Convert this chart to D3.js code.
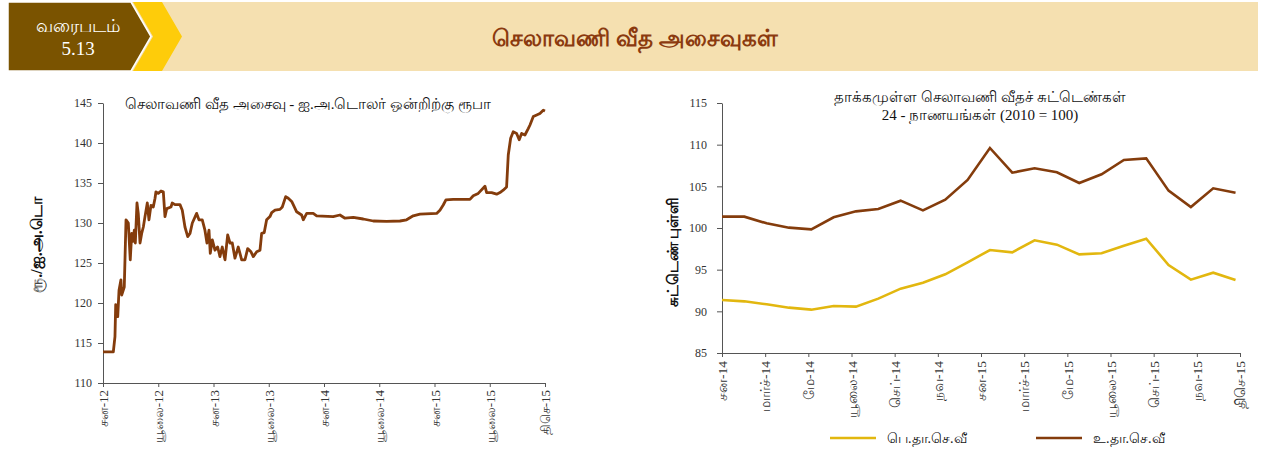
<!DOCTYPE html>
<html>
<head>
<meta charset="utf-8">
<script src="https://cdn.jsdelivr.net/npm/d3@7"></script>
<style>
  @font-face {
    font-family: 'TamilLocal';
    src: local('Noto Sans Tamil'), local('Noto Serif Tamil'), local('Lohit Tamil'), local('Lohit-Tamil'),
         local('TSCu_Paranar'), local('Samyak Tamil');
    unicode-range: U+0B80-0BFF;
  }
  body { margin: 0; background: #fff; }
  text { font-family: 'TamilLocal', 'Liberation Serif', serif; }
  .axis path, .axis line { stroke: #555; }
  .axis text { fill: #333; font-size: 12px; }
</style>
</head>
<body>
<script>
// left chart: rupees per US dollar, x in months from Jan 2012
const usdMonth = [0, 1.12, 1.3, 1.38, 1.6, 1.74, 1.95, 2.03, 2.31, 2.5, 2.75, 2.96, 3.12, 3.26, 3.4, 3.51, 3.69, 3.83,
    4.02, 4.2, 4.38, 4.56, 4.81, 4.99, 5.21, 5.46, 5.65, 5.75, 6.0, 6.3, 6.55, 6.73, 6.92, 7.38, 7.52, 7.82, 8.36,
    8.61, 8.9, 9.2, 9.45, 9.7, 10.17, 10.42, 10.78, 11.07, 11.29, 11.51, 11.65, 11.87, 12.16, 12.45, 12.7, 12.95,
    13.25, 13.54, 13.79, 14.04, 14.33, 14.69, 15.06, 15.42, 15.71, 16.07, 16.32, 16.69, 17.05, 17.23, 17.51, 17.77,
    18.13, 18.32, 18.68, 19.22, 19.47, 19.84, 20.12, 20.49, 20.66, 21.03, 21.57, 21.75, 22.12, 22.83, 23.2, 25.0,
    25.73, 26.28, 27.18, 28.26, 29.35, 30.8, 32.25, 32.97, 33.69, 34.42, 36.23, 36.59, 36.95, 37.24, 38.03, 39.85,
    40.21, 40.75, 41.48, 41.66, 42.2, 42.75, 43.11, 43.46, 43.83, 44.01, 44.27, 44.55, 44.92, 45.2, 45.46, 45.82,
    46.18, 46.37, 46.73, 47.1, 47.45, 47.81, 48.0]
const usdRate = [113.9, 113.9, 115.8, 119.8, 118.3, 121.6, 122.9, 121.0, 122.0, 130.4, 130.0, 125.4, 128.7, 127.7,
    129.1, 127.5, 132.5, 131.2, 127.5, 128.7, 129.5, 130.8, 132.5, 130.4, 132.2, 132.0, 133.1, 133.9, 133.7, 134.0,
    133.9, 130.8, 131.8, 132.0, 132.5, 132.3, 132.3, 131.6, 129.5, 128.3, 128.7, 130.0, 131.2, 130.4, 130.4, 129.1,
    127.5, 129.1, 126.2, 127.9, 126.6, 127.0, 125.8, 127.0, 125.4, 128.5, 127.5, 127.5, 125.6, 127.0, 125.4, 125.4,
    126.8, 126.4, 125.8, 126.4, 126.6, 128.7, 128.8, 130.4, 130.8, 131.3, 131.6, 131.7, 132.0, 133.3, 133.1, 132.7,
    132.3, 131.4, 131.0, 130.4, 131.2, 131.2, 130.9, 130.8, 131.0, 130.6, 130.7, 130.5, 130.25, 130.2, 130.25,
    130.4, 130.9, 131.1, 131.2, 131.6, 132.25, 132.9, 132.95, 132.95, 133.4, 133.7, 134.6, 133.8, 133.8, 133.6,
    133.8, 134.1, 134.5, 138.5, 140.6, 141.4, 141.2, 140.4, 141.2, 141.0, 141.8, 142.25, 143.3, 143.5, 143.7,
    144.1, 144.0]
const leftTicks = [0, 6, 12, 18, 24, 30, 36, 42, 48]
const leftTickLabels = ['சன-12', 'யூலை-12', 'சன-13', 'யூலை-13', 'சன-14', 'யூலை-14', 'சன-15', 'யூலை-15', 'திசெ-15']
const leftYTicks = [110, 115, 120, 125, 130, 135, 140, 145]

// right chart: effective exchange rate indices, Jan 2014 - Dec 2015
const neer = [91.36, 91.2, 90.84, 90.44, 90.2, 90.64, 90.56, 91.52, 92.72, 93.44, 94.44, 95.88,
    97.36, 97.08, 98.52, 98.0, 96.84, 96.96, 97.88, 98.72, 95.56, 93.8, 94.64, 93.76]
const reer = [101.36, 101.36, 100.56, 100.04, 99.84, 101.28, 102.0, 102.28, 103.28, 102.12, 103.4, 105.76,
    109.6, 106.64, 107.16, 106.68, 105.4, 106.44, 108.16, 108.36, 104.48, 102.52, 104.76, 104.24]
const rightTickLabels = ['சன-14', 'மார்ச்-14', 'மே-14', 'யூலை-14', 'செப்-14', 'நவ-14', 'சன-15', 'மார்ச்-15',
    'மே-15', 'யூலை-15', 'செப்-15', 'நவ-15', 'திசெ-15']
const rightYTicks = [85, 90, 95, 100, 105, 110, 115]
const seriesNames = ['பெ.தா.செ.வீ', 'உ.தா.செ.வீ']

let brown = '#843c0c'
let yellow = '#e2b70f'

let svg = d3.select('body').append('svg')
    .attr('width', 1262)
    .attr('height', 459)

// ---- header band
svg.append('rect').attr('x', 130).attr('y', 2).attr('width', 1128).attr('height', 69).style('fill', '#f5e0b0')
svg.append('polygon')
    .attr('points', '133,2 162,2 182,36.5 162,71 133,71 153,36.5')
    .style('fill', '#fecc0a')
svg.append('polygon')
    .attr('points', '8,2 131,2 151,36.5 131,71 8,71')
    .style('fill', '#7a5300').style('stroke', '#fff').style('stroke-width', 1.5)

svg.append('text').attr('x', 78).attr('y', 32).attr('text-anchor', 'middle')
    .style('fill', '#fff').style('font-size', '18px').text('வரைபடம்')
svg.append('text').attr('x', 78).attr('y', 55).attr('text-anchor', 'middle')
    .style('fill', '#fff').style('font-size', '19px').text('5.13')
svg.append('text').attr('x', 635).attr('y', 46).attr('text-anchor', 'middle')
    .style('fill', '#8b3a0f').style('font-size', '23px').style('font-weight', 'bold')
    .text('செலாவணி வீத அசைவுகள்')

// ---- left chart
let xL = d3.scaleLinear().domain([0, 48]).range([103, 545])
let yL = d3.scaleLinear().domain([110, 145]).range([383, 103])

svg.append('g').attr('class', 'axis').attr('transform', 'translate(103,0)')
    .call(d3.axisLeft(yL).tickValues(leftYTicks).tickSize(5).tickSizeOuter(0).tickPadding(6))
svg.append('g').attr('class', 'axis x-left').attr('transform', 'translate(0,383)')
    .call(d3.axisBottom(xL).tickValues(leftTicks).tickSize(4).tickSizeOuter(0)
        .tickFormat((d, i) => leftTickLabels[i]))

svg.select('.x-left').selectAll('text')
    .attr('transform', 'rotate(-90)')
    .attr('text-anchor', 'end')
    .attr('x', -7).attr('y', 0).attr('dy', '0.35em')
    .style('font-size', '13px')

let usd = usdMonth.map((m, i) => ({m: m, v: usdRate[i]}))
let lineL = d3.line().x(d => xL(d.m)).y(d => yL(d.v))
svg.append('path').datum(usd)
    .attr('d', lineL)
    .style('fill', 'none').style('stroke', brown).style('stroke-width', 2.8)
    .style('stroke-linejoin', 'round')

svg.append('text').attr('x', 125).attr('y', 109)
    .style('font-size', '15px').style('fill', '#111')
    .text('செலாவணி வீத அசைவு - ஐ.அ.டொலர் ஒன்றிற்கு ரூபா')
svg.append('text').attr('transform', 'translate(42,245) rotate(-90)').attr('text-anchor', 'middle')
    .style('font-size', '16px').style('fill', '#111').style('font-weight', 'bold')
    .text('ரூ./ஐ.அ.டொ')

// ---- right chart
let xR = d3.scaleLinear().domain([0, 23.2]).range([722, 1240])
let yR = d3.scaleLinear().domain([85, 115]).range([353, 103])
let rightTicks = rightTickLabels.map((t, i) => i * 23.2 / 12)

svg.append('g').attr('class', 'axis').attr('transform', 'translate(722,0)')
    .call(d3.axisLeft(yR).tickValues(rightYTicks).tickSize(5).tickSizeOuter(0).tickPadding(10))
svg.append('g').attr('class', 'axis x-right').attr('transform', 'translate(0,353)')
    .call(d3.axisBottom(xR).tickValues(rightTicks).tickSize(4).tickSizeOuter(0)
        .tickFormat((d, i) => rightTickLabels[i]))

svg.select('.x-right').selectAll('text')
    .attr('transform', 'rotate(-90)')
    .attr('text-anchor', 'end')
    .attr('x', -8).attr('y', 0).attr('dy', '0.35em')
    .style('font-size', '13.5px')

let lineR = d3.line().x((d, i) => xR(i)).y(d => yR(d))
svg.append('path').datum(neer).attr('d', lineR)
    .style('fill', 'none').style('stroke', yellow).style('stroke-width', 2.6)
svg.append('path').datum(reer).attr('d', lineR)
    .style('fill', 'none').style('stroke', brown).style('stroke-width', 2.6)

svg.append('text').attr('x', 980).attr('y', 102).attr('text-anchor', 'middle')
    .style('font-size', '15px').style('fill', '#111')
    .text('தாக்கமுள்ள செலாவணி வீதச் சுட்டெண்கள்')
svg.append('text').attr('x', 980).attr('y', 120).attr('text-anchor', 'middle')
    .style('font-size', '15px').style('fill', '#111')
    .text('24 - நாணயங்கள் (2010 = 100)')
svg.append('text').attr('transform', 'translate(678,252) rotate(-90)').attr('text-anchor', 'middle')
    .style('font-size', '15px').style('fill', '#111').style('font-weight', 'bold')
    .text('சுட்டெண் புள்ளி')

// legend
let legend = svg.append('g').attr('transform', 'translate(0,438)')
let legendX = [830, 1036]
let legendColors = [yellow, brown]
seriesNames.forEach((name, i) => {
    legend.append('line')
        .attr('x1', legendX[i]).attr('x2', legendX[i] + 46)
        .attr('y1', 0).attr('y2', 0)
        .style('stroke', legendColors[i]).style('stroke-width', 2.6)
    legend.append('text')
        .attr('x', legendX[i] + 57).attr('y', 5)
        .style('font-size', '14px').style('fill', '#111')
        .text(name)
})
</script>
</body>
</html>
